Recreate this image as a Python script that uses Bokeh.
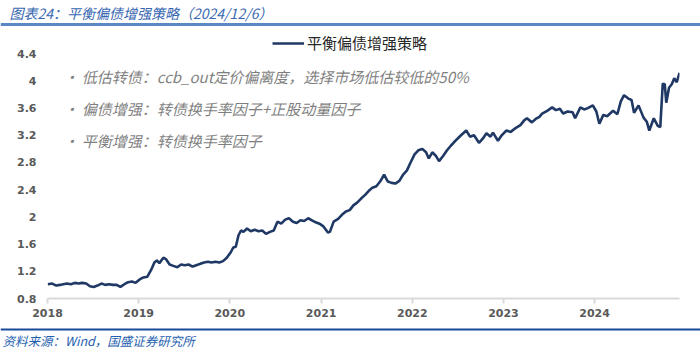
from bokeh.plotting import figure
from bokeh.models import (Range1d, FixedTicker, CustomJSTickFormatter, Legend, LegendItem,
                          Label, Span, DatetimeTickFormatter)
from bokeh.layouts import column
from bokeh.embed import file_html
from bokeh.resources import INLINE
import pandas as pd

dates = [
    "2018-01-02", "2018-01-20", "2018-02-05", "2018-02-20", "2018-03-05", "2018-03-20",
    "2018-04-05", "2018-04-20", "2018-05-05", "2018-05-20", "2018-06-05", "2018-06-20",
    "2018-07-05", "2018-07-20", "2018-08-05", "2018-08-20", "2018-09-05", "2018-09-20",
    "2018-10-05", "2018-10-20", "2018-11-05", "2018-11-20", "2018-12-05", "2018-12-20",
    "2019-01-05", "2019-01-20", "2019-02-05", "2019-02-20", "2019-03-05", "2019-03-15",
    "2019-03-25", "2019-04-10", "2019-04-20", "2019-05-05", "2019-05-20", "2019-06-05",
    "2019-06-20", "2019-07-05", "2019-07-20", "2019-08-05", "2019-08-20", "2019-09-05",
    "2019-09-20", "2019-10-05", "2019-10-20", "2019-11-05", "2019-11-20", "2019-12-05",
    "2019-12-20", "2020-01-05", "2020-01-15", "2020-01-25", "2020-02-05", "2020-02-15",
    "2020-02-25", "2020-03-10", "2020-03-25", "2020-04-10", "2020-04-25", "2020-05-10",
    "2020-05-25", "2020-06-10", "2020-06-25", "2020-07-10", "2020-07-25", "2020-08-10",
    "2020-08-25", "2020-09-10", "2020-09-25", "2020-10-10", "2020-10-25", "2020-11-10",
    "2020-11-25", "2020-12-10", "2020-12-25", "2021-01-10", "2021-01-28", "2021-02-05",
    "2021-02-20", "2021-03-10", "2021-03-25", "2021-04-10", "2021-04-25", "2021-05-10",
    "2021-05-25", "2021-06-10", "2021-06-25", "2021-07-10", "2021-07-25", "2021-08-10",
    "2021-08-25", "2021-09-10", "2021-09-25", "2021-10-10", "2021-10-25", "2021-11-10",
    "2021-11-25", "2021-12-10", "2021-12-25", "2022-01-10", "2022-01-25", "2022-02-10",
    "2022-02-25", "2022-03-08", "2022-03-22", "2022-04-05", "2022-04-18", "2022-05-05",
    "2022-05-20", "2022-06-05", "2022-06-15", "2022-07-01", "2022-07-15", "2022-08-05",
    "2022-08-20", "2022-09-05", "2022-09-25", "2022-10-10", "2022-10-25", "2022-11-10",
    "2022-11-20", "2022-12-10", "2022-12-25", "2023-01-12", "2023-01-30", "2023-02-20",
    "2023-03-10", "2023-03-25", "2023-04-05", "2023-04-25", "2023-05-10", "2023-05-25",
    "2023-06-05", "2023-06-25", "2023-07-15", "2023-07-30", "2023-08-15", "2023-08-28",
    "2023-09-15", "2023-10-05", "2023-10-15", "2023-11-05", "2023-11-20", "2023-12-05",
    "2023-12-25", "2024-01-08", "2024-01-20", "2024-02-05", "2024-02-20", "2024-03-15",
    "2024-04-01", "2024-04-15", "2024-04-28", "2024-05-15", "2024-05-28", "2024-06-07",
    "2024-06-25", "2024-07-15", "2024-07-28", "2024-08-07", "2024-08-25", "2024-09-10",
    "2024-09-20", "2024-09-30", "2024-10-08", "2024-10-14", "2024-10-25", "2024-11-05",
    "2024-11-15", "2024-11-25", "2024-12-06",
]
values = [
    1.01, 1.02, 0.99, 1.00, 1.01, 1.02,
    1.01, 1.03, 1.02, 1.03, 1.02, 0.98,
    0.97, 0.99, 1.02, 1.00, 1.01, 1.00,
    1.00, 0.97, 1.01, 1.04, 1.05, 1.03,
    1.08, 1.11, 1.12, 1.22, 1.33, 1.36,
    1.32, 1.40, 1.38, 1.30, 1.28, 1.26,
    1.30, 1.29, 1.30, 1.27, 1.29, 1.31,
    1.33, 1.34, 1.33, 1.34, 1.33, 1.35,
    1.40, 1.48, 1.55, 1.56, 1.73, 1.80,
    1.78, 1.83, 1.79, 1.81, 1.79, 1.80,
    1.75, 1.78, 1.80, 1.93, 1.90, 1.96,
    1.98, 1.93, 1.91, 1.95, 1.94, 1.98,
    1.95, 1.92, 1.90, 1.86, 1.77, 1.78,
    1.93, 1.97, 2.03, 2.08, 2.10, 2.17,
    2.21, 2.27, 2.32, 2.38, 2.43, 2.45,
    2.52, 2.62, 2.52, 2.50, 2.49, 2.53,
    2.62, 2.68, 2.80, 2.92, 2.98, 3.00,
    2.95, 2.86, 2.95, 2.90, 2.82, 2.90,
    2.98, 3.05, 3.09, 3.15, 3.20, 3.27,
    3.18, 3.20, 3.09, 3.15, 3.23, 3.18,
    3.24, 3.12, 3.20, 3.27, 3.25, 3.31,
    3.35, 3.42, 3.45, 3.39, 3.44, 3.47,
    3.52, 3.56, 3.61, 3.57, 3.59, 3.52,
    3.55, 3.54, 3.45, 3.61, 3.58, 3.60,
    3.64, 3.55, 3.37, 3.50, 3.48, 3.56,
    3.51, 3.70, 3.79, 3.74, 3.72, 3.53,
    3.64, 3.46, 3.40, 3.27, 3.45, 3.34,
    3.32, 3.96, 3.95, 3.68, 3.90, 3.95,
    4.04, 3.98, 4.12,
]
y_ticks = [0.8, 1.2, 1.6, 2.0, 2.4, 2.8, 3.2, 3.6, 4.0, 4.4]
year_ticks = ["2018-01-01", "2019-01-01", "2020-01-01", "2021-01-01",
              "2022-01-01", "2023-01-01", "2024-01-01"]
series_name = "平衡偏债增强策略"
notes = [
    "•  低估转债：ccb_out定价偏离度，选择市场低估较低的50%",
    "•  偏债增强：转债换手率因子+正股动量因子",
    "•  平衡增强：转债换手率因子",
]
title_text = "图表24：平衡偏债增强策略（2024/12/6）"
source_text = "资料来源：Wind，国盛证券研究所"

x = pd.to_datetime(dates)
tick_ms = [pd.Timestamp(t).value // 10**6 for t in year_ticks]


def strip_figure(h):
    f = figure(width=700, height=h, output_backend="svg", toolbar_location=None,
               x_range=Range1d(0, 700), y_range=Range1d(0, h),
               x_axis_location=None, y_axis_location=None, min_border=0,
               frame_align=False)
    f.outline_line_color = None
    f.xgrid.visible = False
    f.ygrid.visible = False
    f.background_fill_color = "white"
    f.border_fill_color = "white"
    return f


# ---- header strip
top = strip_figure(26)
top.add_layout(Label(x=9, y=14, text=title_text, text_font="Noto Sans CJK SC",
                     text_font_style="italic", text_font_size="14px",
                     text_color="#3767b1", text_baseline="middle"))
top.add_layout(Span(location=2, dimension="width", line_color="#5b87c5", line_width=3))

# ---- main chart
p = figure(width=700, height=301, x_axis_type="datetime", output_backend="svg",
           toolbar_location=None, frame_align=False,
           x_range=Range1d(pd.Timestamp("2018-01-01"), pd.Timestamp("2024-12-06")),
           y_range=Range1d(0.8, 4.697))
p.min_border_top = 7
p.min_border_bottom = 29
p.min_border_left = 47
p.min_border_right = 21
p.outline_line_color = None
p.xgrid.visible = False
p.ygrid.visible = False
p.background_fill_color = "white"
p.border_fill_color = "white"

r = p.line(x, values, line_color="#1f3864", line_width=2.6)

p.yaxis.ticker = FixedTicker(ticks=y_ticks)
p.yaxis.formatter = CustomJSTickFormatter(code="return tick.toFixed(1).replace(/\\.0$/, '');")
p.yaxis.axis_line_color = None
p.yaxis.major_tick_line_color = None
p.yaxis.minor_tick_line_color = None
p.yaxis.major_label_standoff = 5
for ax in (p.xaxis[0], p.yaxis[0]):
    ax.major_label_text_font = "DejaVu Sans"
    ax.major_label_text_font_style = "bold"
    ax.major_label_text_font_size = "11px"
    ax.major_label_text_color = "#595959"

p.xaxis.ticker = FixedTicker(ticks=tick_ms)
p.xaxis.formatter = DatetimeTickFormatter(years="%Y", months="%Y", days="%Y", hours="%Y",
                                          minutes="%Y", seconds="%Y", milliseconds="%Y")
p.xaxis.axis_line_color = "#d9d9d9"
p.xaxis.axis_line_width = 2
p.xaxis.major_tick_line_color = "#d9d9d9"
p.xaxis.major_tick_line_width = 2
p.xaxis.major_tick_out = 5
p.xaxis.major_tick_in = 0
p.xaxis.minor_tick_line_color = None
p.xaxis.major_label_standoff = 5

legend = Legend(items=[LegendItem(label=series_name, renderers=[r])],
                location=(225, 245), padding=0, margin=0, border_line_color=None,
                background_fill_alpha=0, glyph_width=32, label_standoff=3,
                label_text_font="Noto Sans CJK SC", label_text_font_size="15px",
                label_text_color="#262626", label_height=16, glyph_height=16)
p.add_layout(legend)

note_y = [222, 190, 158]
for txt, yy in zip(notes, note_y):
    p.add_layout(Label(x=16, y=yy, x_units="screen", y_units="screen", text=txt,
                       text_font="Noto Sans CJK SC", text_font_style="italic",
                       text_font_size="15px", text_color="#7f7f7f",
                       text_baseline="middle"))

# ---- footer strip
bottom = strip_figure(26)
bottom.add_layout(Span(location=24, dimension="width", line_color="#1a4b9b", line_width=2))
bottom.add_layout(Label(x=2, y=13, text=source_text, text_font="Noto Sans CJK SC",
                        text_font_style="italic", text_font_size="12.5px",
                        text_color="#1f5fb0", text_baseline="middle"))

layout = column(top, p, bottom, spacing=0)
open("out.html", "w").write(file_html(layout, INLINE))
